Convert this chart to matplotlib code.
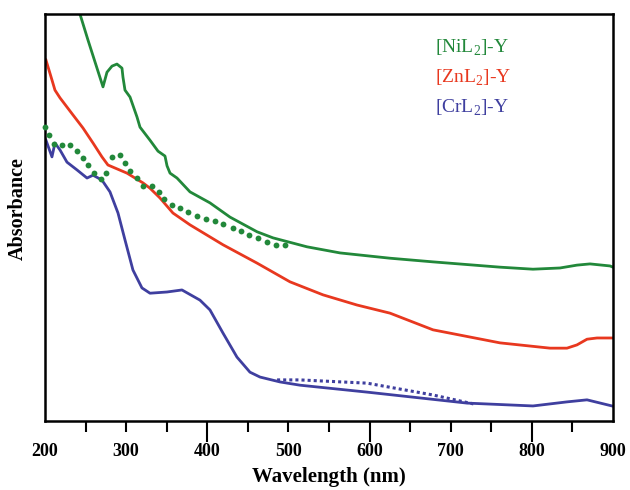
import matplotlib
matplotlib.use('Agg')
import matplotlib.pyplot as plt
from matplotlib.ticker import FixedLocator

plt.rcParams['font.family'] = ['Liberation Serif', 'DejaVu Serif']
plt.rcParams['mathtext.fontset'] = 'custom'
plt.rcParams['mathtext.rm'] = 'Liberation Serif'

GREEN = '#22883a'
RED = '#e8381f'
BLUE = '#3f3f9f'

# [NiL2]-Y solid
ni_wl = [243.1, 253.0, 271.5, 276.4, 282.6, 288.7, 294.9, 296.1, 298.6, 304.8, 313.4,
         317.1, 329.4, 339.3, 347.9, 350.4, 354.1, 362.7, 378.7, 403.3, 428.0, 461.3,
         481.0, 522.9, 563.6, 625.2, 678.2, 760.7, 801.4, 834.7, 855.6, 871.7, 896.3, 900]
ni_abs = [1.0, 0.936, 0.821, 0.857, 0.872, 0.877, 0.867, 0.845, 0.813, 0.796, 0.747,
          0.722, 0.690, 0.663, 0.651, 0.627, 0.609, 0.597, 0.563, 0.536, 0.501, 0.465,
          0.450, 0.428, 0.413, 0.400, 0.391, 0.378, 0.373, 0.376, 0.383, 0.386, 0.381, 0.378]

# [NiL2] dotted trace, one value per dot
ni_dot_wl = [200.0, 204.9, 211.1, 221.0, 230.8, 239.4, 246.8, 253.0, 260.4, 269.0, 275.2,
             282.6, 292.4, 298.6, 304.8, 313.4, 320.8, 331.9, 340.5, 346.7, 356.5, 366.4,
             376.2, 387.3, 398.4, 409.5, 419.4, 431.7, 441.6, 451.4, 462.5, 473.6, 484.7, 495.8]
ni_dot_abs = [0.722, 0.703, 0.681, 0.678, 0.678, 0.663, 0.646, 0.629, 0.609, 0.595, 0.609,
              0.648, 0.653, 0.634, 0.614, 0.597, 0.577, 0.577, 0.563, 0.545, 0.531, 0.523,
              0.513, 0.504, 0.496, 0.491, 0.484, 0.474, 0.467, 0.457, 0.449, 0.440, 0.432, 0.432]

# [ZnL2]-Y
zn_wl = [201.2, 208.6, 212.3, 218.5, 234.5, 246.8, 259.2, 270.2, 277.6, 301.1, 320.8,
         329.4, 341.7, 357.7, 378.7, 419.4, 461.3, 501.9, 542.6, 584.5, 625.2, 678.2,
         760.7, 822.4, 843.3, 855.6, 868.0, 880.3, 898.8]
zn_abs = [0.887, 0.838, 0.813, 0.794, 0.752, 0.720, 0.683, 0.649, 0.629, 0.609, 0.585,
          0.572, 0.548, 0.511, 0.482, 0.433, 0.388, 0.342, 0.310, 0.285, 0.265, 0.224,
          0.192, 0.179, 0.179, 0.187, 0.201, 0.204, 0.204]

# [CrL2]-Y solid
cr_wl = [201.2, 208.6, 212.3, 218.5, 227.1, 239.4, 251.8, 259.2, 270.2, 280.1, 290.0,
         298.6, 308.4, 319.5, 329.4, 350.4, 368.8, 391.0, 403.3, 419.4, 436.6, 452.6,
         465.0, 489.6, 514.3, 596.8, 720.1, 801.4, 843.3, 868.0, 898.8]
cr_abs = [0.690, 0.649, 0.683, 0.666, 0.636, 0.617, 0.597, 0.604, 0.592, 0.563, 0.511,
          0.445, 0.371, 0.327, 0.314, 0.317, 0.322, 0.297, 0.273, 0.216, 0.157, 0.120,
          0.108, 0.096, 0.088, 0.071, 0.044, 0.037, 0.047, 0.052, 0.037]

# [CrL2] dotted
cr_dot_wl = [486, 514, 597, 678, 728]
cr_dot_abs = [0.101, 0.101, 0.093, 0.064, 0.042]

labels = [r'[NiL$_2$]-Y', r'[ZnL$_2$]-Y', r'[CrL$_2$]-Y']
xtick_vals = [200, 300, 400, 500, 600, 700, 800, 900]
short_ticks = [250, 300, 350, 450, 500, 550, 650, 700, 750, 850]
long_ticks = [400, 600, 800]

fig = plt.figure(figsize=(6.3, 4.9), dpi=100)
ax = fig.add_axes([0.0714, 0.1408, 0.9016, 0.8306])

lw = 2.0
ax.plot(ni_wl, ni_abs, color=GREEN, lw=lw)
ax.plot(ni_dot_wl, ni_dot_abs, color=GREEN, linestyle='none', marker='o',
        markersize=4.2, markeredgewidth=0, clip_on=False, zorder=3)
ax.plot(zn_wl, zn_abs, color=RED, lw=lw)
ax.plot(cr_wl, cr_abs, color=BLUE, lw=lw)
ax.plot(cr_dot_wl, cr_dot_abs, color=BLUE, lw=2.2, linestyle=(0, (1.0, 1.0)))

ax.set_xlim(200, 900)
ax.set_ylim(0, 1)
ax.set_yticks([])

# labels on invisible major ticks, short ticks as minor, long ticks on a twin axis
ax.xaxis.remove_overlapping_locs = False
ax.set_xticks(xtick_vals)
ax.xaxis.set_minor_locator(FixedLocator(short_ticks))
ax.tick_params(axis='x', which='major', length=0, labelsize=13, pad=16)
ax.tick_params(axis='x', which='minor', direction='out', length=8, width=1.5)
for lbl in ax.get_xticklabels():
    lbl.set_fontweight('bold')

sec = ax.secondary_xaxis('bottom')
sec.set_xticks(long_ticks)
sec.tick_params(axis='x', direction='out', length=15, width=1.5, labelbottom=False)
sec.spines['bottom'].set_visible(False)

for sp in ax.spines.values():
    sp.set_linewidth(1.8)

ax.set_xlabel('Wavelength (nm)', fontsize=15, fontweight='bold', labelpad=5)
ax.set_ylabel('Absorbance', fontsize=14.5, fontweight='bold')
ax.yaxis.set_label_coords(-0.030, 0.521)

for i, (txt, col) in enumerate(zip(labels, [GREEN, RED, BLUE])):
    ax.text(0.687, 0.918 - i * 0.074, txt, color=col, fontsize=14,
            transform=ax.transAxes, va='center', ha='left')

fig.savefig('out.png', dpi=100)
